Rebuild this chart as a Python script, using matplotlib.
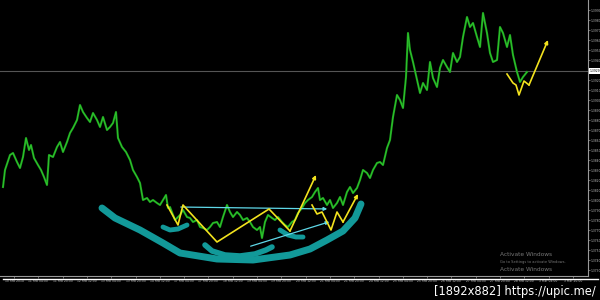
import matplotlib
matplotlib.use("Agg")
import matplotlib.pyplot as plt
from matplotlib.lines import Line2D

# -----------------------------
# Price data
# -----------------------------
bars = [3, 5, 10, 13, 17, 20, 23, 26, 29, 31,
        34, 38, 41, 44, 47, 49, 53, 57, 60, 63,
        67, 70, 73, 77, 80, 83, 87, 90, 93, 97,
        100, 103, 107, 110, 113, 116, 118, 122, 126, 130,
        133, 137, 140, 143, 147, 150, 153, 157, 160, 163,
        166, 168, 170, 175, 180, 183, 187, 190, 193, 197,
        200, 203, 207, 210, 213, 217, 220, 223, 227, 230,
        233, 237, 240, 243, 247, 250, 253, 257, 260, 262,
        265, 268, 272, 275, 278, 282, 285, 288, 292, 295,
        298, 302, 305, 308, 312, 315, 318, 320, 323, 327,
        330, 333, 337, 340, 343, 347, 350, 353, 357, 360,
        363, 367, 370, 373, 377, 380, 383, 387, 390, 393,
        397, 400, 403, 406, 408, 410, 413, 417, 420, 423,
        427, 430, 433, 437, 440, 443, 447, 450, 453, 457,
        460, 463, 467, 470, 473, 477, 480, 483, 487, 490,
        493, 497, 500, 503, 507, 510, 513, 517, 520, 523,
        527]
close = [1.3813, 1.3830, 1.3845, 1.3847, 1.3838, 1.3832, 1.3843, 1.3862, 1.3850, 1.3855,
         1.3842, 1.3835, 1.3830, 1.3823, 1.3815, 1.3845, 1.3843, 1.3853, 1.3858, 1.3848,
         1.3858, 1.3867, 1.3872, 1.3880, 1.3895, 1.3888, 1.3882, 1.3878, 1.3887, 1.3880,
         1.3873, 1.3883, 1.3870, 1.3873, 1.3877, 1.3888, 1.3862, 1.3853, 1.3848, 1.3840,
         1.3830, 1.3823, 1.3817, 1.3800, 1.3802, 1.3798, 1.3800, 1.3797, 1.3795, 1.3800,
         1.3805, 1.3792, 1.3793, 1.3780, 1.3785, 1.3790, 1.3783, 1.3782, 1.3778, 1.3780,
         1.3773, 1.3772, 1.3770, 1.3773, 1.3777, 1.3778, 1.3773, 1.3783, 1.3795, 1.3788,
         1.3783, 1.3788, 1.3785, 1.3780, 1.3782, 1.3778, 1.3773, 1.3770, 1.3773, 1.3762,
         1.3778, 1.3785, 1.3782, 1.3780, 1.3783, 1.3778, 1.3775, 1.3773, 1.3778, 1.3780,
         1.3787, 1.3792, 1.3797, 1.3800, 1.3803, 1.3808, 1.3812, 1.3800, 1.3802, 1.3795,
         1.3800, 1.3792, 1.3797, 1.3803, 1.3795, 1.3808, 1.3813, 1.3807, 1.3812, 1.3820,
         1.3830, 1.3827, 1.3822, 1.3830, 1.3837, 1.3838, 1.3835, 1.3852, 1.3860, 1.3883,
         1.3905, 1.3900, 1.3892, 1.3923, 1.3967, 1.3950, 1.3938, 1.3920, 1.3907, 1.3917,
         1.3910, 1.3938, 1.3922, 1.3913, 1.3932, 1.3940, 1.3933, 1.3928, 1.3947, 1.3938,
         1.3943, 1.3963, 1.3983, 1.3973, 1.3977, 1.3963, 1.3953, 1.3987, 1.3967, 1.3947,
         1.3938, 1.3940, 1.3973, 1.3967, 1.3953, 1.3965, 1.3945, 1.3928, 1.3918, 1.3923,
         1.3928]

last_price = 1.3929

# hand-drawn annotations
zig1_x = [167, 178, 183, 217, 269, 290, 316]
zig1_y = [1.3795, 1.3775, 1.3795, 1.3758, 1.3791, 1.3769, 1.3825]
zig2_x = [312, 317, 322, 331, 337, 343, 358]
zig2_y = [1.3795, 1.3786, 1.3788, 1.3770, 1.3788, 1.3778, 1.3806]
zig3_x = [507, 513, 516, 519, 524, 529, 548]
zig3_y = [1.3926, 1.3917, 1.3915, 1.3905, 1.3919, 1.3915, 1.3960]

neck_x = [178, 330]
neck_y = [1.3793, 1.3791]
trend_x = [248, 332]
trend_y = [1.3753, 1.3779]

cup_x = [102, 115, 140, 163, 180, 217, 253, 290, 310, 327, 343, 355, 361]
cup_y = [1.3792, 1.3782, 1.3770, 1.3757, 1.3747, 1.3741, 1.3740, 1.3745, 1.3751, 1.3760, 1.3769, 1.3782, 1.3796]
arc1_x = [163, 170, 178, 187]
arc1_y = [1.3773, 1.3770, 1.3771, 1.3775]
arc2_x = [205, 212, 225, 240, 255, 266, 272]
arc2_y = [1.3755, 1.3749, 1.3745, 1.3744, 1.3746, 1.3750, 1.3753]
arc3_x = [280, 288, 296, 303]
arc3_y = [1.3770, 1.3765, 1.3763, 1.3763]

price_ticks = [1.3730 + 0.0010 * i for i in range(27)]
time_labels = ["10 Feb 2014", "11 Feb 04:00", "11 Feb 20:00", "12 Feb 12:00",
               "13 Feb 04:00", "13 Feb 20:00", "14 Feb 12:00", "17 Feb 04:00",
               "17 Feb 20:00", "18 Feb 12:00", "19 Feb 04:00", "19 Feb 20:00",
               "20 Feb 12:00", "21 Feb 04:00", "21 Feb 20:00", "24 Feb 12:00",
               "25 Feb 04:00", "25 Feb 20:00", "26 Feb 12:00", "27 Feb 04:00",
               "27 Feb 20:00", "28 Feb 12:00", "3 Mar 04:00", "3 Mar 20:00"]

# -----------------------------
# Plot
# -----------------------------
fig = plt.figure(figsize=(6, 3), dpi=100, facecolor="black")
ax = fig.add_axes([0, 0.08, 0.98, 0.92], facecolor="black")

ax.axhline(last_price, color="#555555", lw=0.8, zorder=1)
ax.plot(bars, close, color="#1c9e1c", lw=1.5, zorder=2)
ax.plot(bars, close, color="#33cc33", lw=0.5, zorder=2)

teal = "#129999"
ax.plot(cup_x, cup_y, color=teal, lw=5, solid_capstyle="round", zorder=3)
ax.plot(arc1_x, arc1_y, color=teal, lw=3.5, solid_capstyle="round", zorder=3)
ax.plot(arc2_x, arc2_y, color=teal, lw=4, solid_capstyle="round", zorder=3)
ax.plot(arc3_x, arc3_y, color=teal, lw=3.5, solid_capstyle="round", zorder=3)

cyan = "#5fd8e8"
for lx, ly in [(neck_x, neck_y), (trend_x, trend_y)]:
    ax.annotate("", xy=(lx[1], ly[1]), xytext=(lx[0], ly[0]),
                arrowprops=dict(arrowstyle="-|>", color=cyan, lw=0.9,
                                mutation_scale=5), zorder=4)

yellow = "#f2e21e"
for zx, zy in [(zig1_x, zig1_y), (zig2_x, zig2_y), (zig3_x, zig3_y)]:
    ax.plot(zx[:-1], zy[:-1], color=yellow, lw=1.2, zorder=5)
    ax.annotate("", xy=(zx[-1], zy[-1]), xytext=(zx[-2], zy[-2]),
                arrowprops=dict(arrowstyle="-|>", color=yellow, lw=1.2,
                                mutation_scale=5, shrinkA=0, shrinkB=0), zorder=5)

ax.set_xlim(0, 588)
ax.set_ylim(1.3724, 1.4000)

ax.yaxis.tick_right()
ax.set_yticks(price_ticks)
ax.set_yticklabels([f"{p:.4f}" for p in price_ticks])
ax.set_xticks([14 + 24.3 * i for i in range(len(time_labels))])
ax.set_xticklabels(time_labels)
ax.tick_params(colors="#bbbbbb", labelsize=2.2, length=1.2, width=0.4, pad=0.8)
for side in ["top", "left"]:
    ax.spines[side].set_visible(False)
ax.spines["right"].set_color("#999999")
ax.spines["bottom"].set_color("#999999")
ax.spines["right"].set_linewidth(0.8)
ax.spines["bottom"].set_linewidth(0.8)

# current price marker on the axis
ax.text(1.003, last_price, f"{last_price:.4f}", transform=ax.get_yaxis_transform(),
        fontsize=2.2, color="black", va="center", ha="left",
        bbox=dict(boxstyle="square,pad=0.25", fc="white", ec="none"), zorder=10)

# activation watermark
ax.text(500, 1.3724 + 0.0020, "Activate Windows", fontsize=4.2, color="#777777")
ax.text(500, 1.3724 + 0.0013, "Go to Settings to activate Windows.", fontsize=2.6, color="#777777")
ax.text(500, 1.3724 + 0.0005, "Activate Windows", fontsize=4.2, color="#777777")

fig.add_artist(Line2D([0.005, 0.997], [0.07, 0.07], color="white", lw=1.0))
fig.text(0.993, 0.03, "[1892x882] https://upic.me/", color="white",
         fontsize=8.3, family="DejaVu Sans", ha="right", va="center")

fig.savefig("out.png", dpi=100, facecolor="black")
